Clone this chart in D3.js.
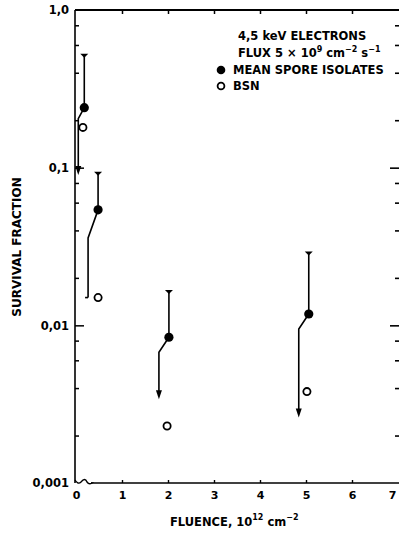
<!DOCTYPE html>
<html><head><meta charset="utf-8">
<script src="https://cdn.jsdelivr.net/npm/d3@7"></script>
<style>
html,body{margin:0;padding:0;background:#fff;}
svg{display:block;font-family:"DejaVu Sans",sans-serif;font-weight:bold;}
</style></head>
<body>
<svg id="c" width="399" height="536"></svg>
<script>
// ---- data ----
const meanX   = [0.18, 0.48, 2.02, 5.06];          // fluence, 10^12 cm^-2
const meanY   = [0.24, 0.054, 0.0084, 0.0118];     // mean spore isolates
const upperY  = [0.52, 0.093, 0.0165, 0.029];      // upper error limit
const lowerY  = [0.09, 0.015, 0.0034, 0.0026];     // lower error limit
const lowerArrow = [true, false, true, true];      // lower limit is "less than"
const bsnX    = [0.15, 0.48, 1.98, 5.02];
const bsnY    = [0.18, 0.015, 0.0023, 0.0038];     // BSN
const xTicks  = [0,1,2,3,4,5,6,7];
const yMajor  = [1, 0.1, 0.01, 0.001];
const yMajorLabels = ["1,0","0,1","0,01","0,001"];
const yMinor  = [0.8,0.6,0.4,0.2,0.08,0.06,0.04,0.02,0.008,0.006,0.004,0.002];

const FONT = "'DejaVu Sans',sans-serif";
const svg = d3.select("#c");
const L=75, T=10, B=483;
const x = d3.scaleLinear().domain([0,7]).range([76,398]);
const y = d3.scaleLog().domain([0.001,1]).range([B,T]);

// axes lines
svg.append("line").attr("x1",L).attr("x2",L).attr("y1",T).attr("y2",B).attr("stroke","#000").attr("stroke-width",1.6);
svg.append("line").attr("x1",L).attr("x2",399).attr("y1",T).attr("y2",T).attr("stroke","#000").attr("stroke-width",2);
svg.append("line").attr("x1",91).attr("x2",399).attr("y1",B).attr("y2",B).attr("stroke","#000").attr("stroke-width",1.5);
// axis break squiggle
svg.append("path").attr("d",`M${L},${B-3} q3,5 6,2 q4,-5 6,0 q2,3 5,1 L91,${B}`).attr("fill","none").attr("stroke","#000").attr("stroke-width",1.4);

// left axis labels + major ticks
const yAx = svg.append("g").attr("transform",`translate(${L},0)`)
  .call(d3.axisLeft(y).tickValues(yMajor).tickFormat((d,i)=>yMajorLabels[i]).tickSizeInner(-9).tickSizeOuter(0).tickPadding(6));
yAx.select(".domain").remove();
yAx.selectAll(".tick line").attr("stroke-width",1.5).filter(d=>d===1||d===0.001).remove();
yAx.selectAll("text").attr("font-size",11.5).attr("font-weight","bold").attr("fill","#000").attr("font-family",FONT);
// left minor ticks
const yMin = svg.append("g").attr("transform",`translate(${L},0)`)
  .call(d3.axisLeft(y).tickValues(yMinor).tickFormat("").tickSizeInner(-4).tickSizeOuter(0));
yMin.select(".domain").remove();
yMin.selectAll(".tick line").attr("stroke-width",1.5);
// right ticks
const yR = svg.append("g").attr("transform",`translate(399,0)`)
  .call(d3.axisRight(y).tickValues(yMinor.concat([0.1,0.01])).tickFormat("").tickSizeInner(-4).tickSizeOuter(0));
yR.select(".domain").remove();
yR.selectAll(".tick line").attr("stroke-width",1.6).filter(d=>d===0.1||d===0.01).attr("x2",-9);

// bottom axis
const xAx = svg.append("g").attr("transform",`translate(0,${B})`)
  .call(d3.axisBottom(x).tickValues(xTicks).tickFormat(d3.format("d")).tickSizeInner(-3).tickSizeOuter(0).tickPadding(8));
xAx.select(".domain").remove();
xAx.selectAll(".tick line").attr("stroke-width",1.4).filter(d=>d===0||d===7).remove();
xAx.selectAll("text").attr("font-size",11).attr("font-weight","bold").attr("fill","#000").attr("font-family",FONT);
xAx.selectAll("text").filter(d=>d===7).attr("text-anchor","end").attr("dx",-2);
// top axis ticks
const xTop = svg.append("g").attr("transform",`translate(0,${T})`)
  .call(d3.axisTop(x).tickValues(xTicks.slice(1,7)).tickFormat("").tickSizeInner(-4).tickSizeOuter(0));
xTop.select(".domain").remove();
xTop.selectAll(".tick line").attr("stroke-width",1.5);

// error bars (mean spore isolates)
const g = svg.append("g").attr("stroke","#000").attr("fill","#000");
meanX.forEach((mx,i)=>{
  const cx = x(mx), cy = y(meanY[i]);
  const ty = y(upperY[i]);
  // upper bar
  g.append("line").attr("x1",cx).attr("x2",cx).attr("y1",ty).attr("y2",cy).attr("stroke-width",1.6);
  g.append("path").attr("d",`M${cx-4},${ty-1} L${cx+4},${ty-1} L${cx},${ty+3} Z`).attr("stroke","none");
  // lower bar, drawn offset to the left
  const off = i===0 ? 6 : 10;
  const ox = cx-off, by = y(lowerY[i]);
  g.append("path").attr("d",`M${cx},${cy} L${ox},${cy+(i===0?11:i===1?28:15)} L${ox},${lowerArrow[i]?by-6:by}`)
    .attr("fill","none").attr("stroke-width",1.6);
  if(lowerArrow[i]){
    g.append("path").attr("d",`M${ox-3},${by-9} L${ox+3},${by-9} L${ox},${by} Z`).attr("stroke","none");
  } else {
    g.append("line").attr("x1",ox-3).attr("x2",ox).attr("y1",by).attr("y2",by).attr("stroke-width",1.6);
  }
});
// mean points
svg.append("g").selectAll("circle").data(meanX).join("circle")
  .attr("cx",d=>x(d)).attr("cy",(d,i)=>y(meanY[i])).attr("r",4.6).attr("fill","#000");
// BSN points
svg.append("g").selectAll("circle").data(bsnX).join("circle")
  .attr("cx",d=>x(d)).attr("cy",(d,i)=>y(bsnY[i])).attr("r",3.6).attr("fill","#fff").attr("stroke","#000").attr("stroke-width",1.8);

// legend
const lg = svg.append("g").attr("font-size",11.5).attr("fill","#000");
lg.append("text").attr("x",238).attr("y",40).text("4,5 keV ELECTRONS");
const t2 = lg.append("text").attr("x",238).attr("y",57);
t2.append("tspan").text("FLUX 5 × 10");
t2.append("tspan").attr("dy",-5).attr("font-size",8).text("9");
t2.append("tspan").attr("dy",5).text(" cm");
t2.append("tspan").attr("dy",-5).attr("font-size",8).text("−2");
t2.append("tspan").attr("dy",5).text(" s");
t2.append("tspan").attr("dy",-5).attr("font-size",8).text("−1");
lg.append("circle").attr("cx",221).attr("cy",70).attr("r",4.3).attr("fill","#000");
lg.append("text").attr("x",233).attr("y",74).text("MEAN SPORE ISOLATES");
lg.append("circle").attr("cx",221).attr("cy",86).attr("r",3.4).attr("fill","#fff").attr("stroke","#000").attr("stroke-width",1.8);
lg.append("text").attr("x",233).attr("y",90).text("BSN");

// axis titles
svg.append("text").attr("transform","translate(21,247) rotate(-90)").attr("text-anchor","middle")
  .attr("font-size",12).text("SURVIVAL FRACTION");
const xt = svg.append("text").attr("x",170).attr("y",526).attr("font-size",11.5);
xt.append("tspan").text("FLUENCE, 10");
xt.append("tspan").attr("dy",-6).attr("font-size",8).text("12");
xt.append("tspan").attr("dy",6).text(" cm");
xt.append("tspan").attr("dy",-6).attr("font-size",8).text("−2");
</script>
</body></html>
